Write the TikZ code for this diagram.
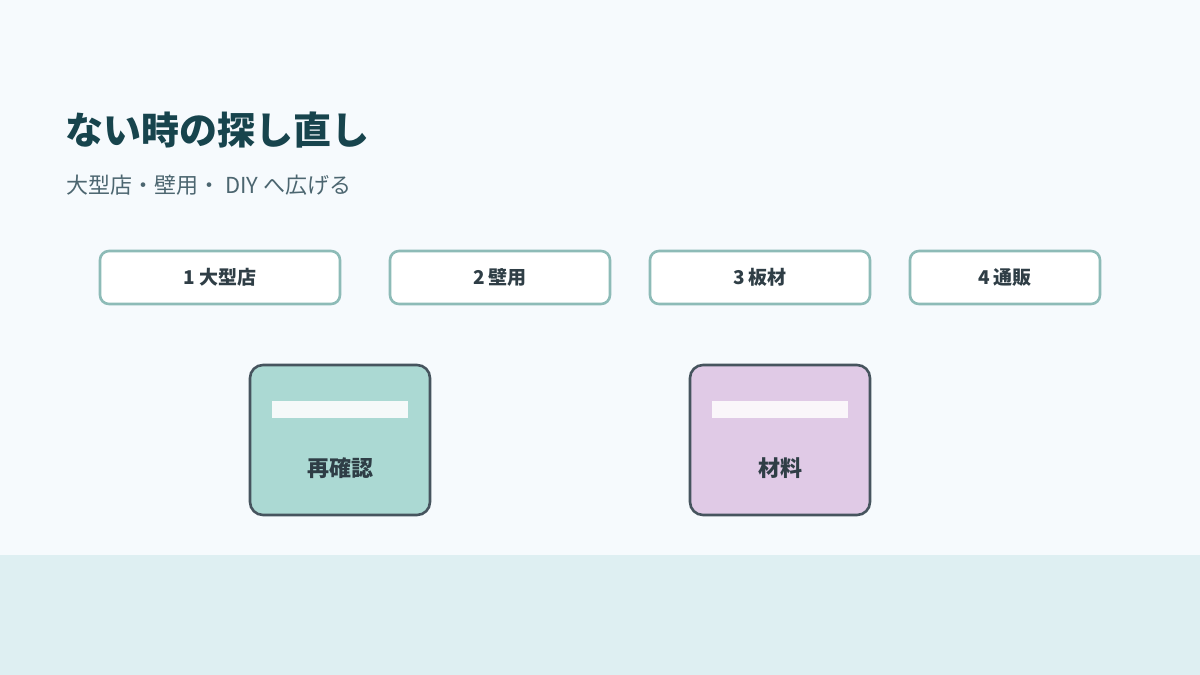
\documentclass[tikz,border=0pt]{standalone}
\usepackage{fontspec}
\setmainfont{Noto Sans CJK JP}
\definecolor{bgtop}{HTML}{F6FAFD}
\definecolor{bgbot}{HTML}{DEEFF2}
\definecolor{titlec}{HTML}{17444D}
\definecolor{subc}{HTML}{4C6670}
\definecolor{tabborder}{HTML}{8DBBB7}
\definecolor{txtc}{HTML}{2F3E46}
\definecolor{cardborder}{HTML}{46545E}
\definecolor{greenfill}{HTML}{ABD9D3}
\definecolor{purplefill}{HTML}{E0CAE6}
\definecolor{barg}{HTML}{F5F9F9}
\definecolor{barp}{HTML}{FAF6FA}
\tikzset{
  tab/.style={draw=tabborder, line width=2.6pt, fill=white, rounded corners=9pt},
  card/.style={draw=cardborder, line width=2.6pt, rounded corners=13pt},
  tabtext/.style={font=\bfseries\fontsize{19}{22}\selectfont, text=txtc},
  cardtext/.style={font=\bfseries\fontsize{22}{26}\selectfont, text=txtc},
}
\begin{document}
\begin{tikzpicture}[x=1pt,y=-1pt]
\useasboundingbox (0,0) rectangle (1200,675);
\fill[bgtop] (0,0) rectangle (1200,555);
\fill[bgbot] (0,555) rectangle (1200,675);
\node[anchor=base west, inner sep=0, text=titlec, font=\bfseries\fontsize{38}{42}\selectfont] (title) at (65,144) {ない時の探し直し};
\node[anchor=base west, inner sep=0, text=subc, font=\fontsize{22}{26}\selectfont] (sub) at (66,193) {大型店・壁用・ DIY へ広げる};
% tabs
\draw[tab] (100,251) rectangle (340,304);
\node[tabtext] (t1) at (220,277.5) {1 大型店};
\draw[tab] (390,251) rectangle (610,304);
\node[tabtext] (t2) at (500,277.5) {2 壁用};
\draw[tab] (650,251) rectangle (870,304);
\node[tabtext] (t3) at (760,277.5) {3 板材};
\draw[tab] (910,251) rectangle (1100,304);
\node[tabtext] (t4) at (1005,277.5) {4 通販};
% cards
\draw[card, fill=greenfill] (250,365) rectangle (430,515);
\fill[barg] (272,401) rectangle (408,418);
\node[cardtext] (c1) at (340,468) {再確認};
\draw[card, fill=purplefill] (690,365) rectangle (870,515);
\fill[barp] (712,401) rectangle (848,418);
\node[cardtext] (c2) at (780,468) {材料};
\end{tikzpicture}
\end{document}
